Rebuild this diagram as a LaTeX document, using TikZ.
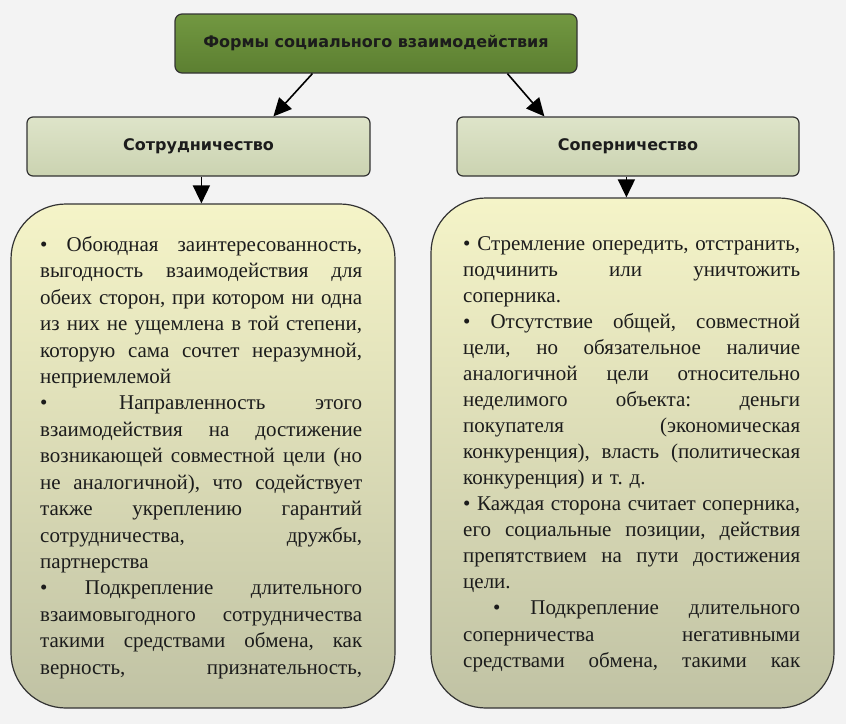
\documentclass[tikz,border=0pt]{standalone}
\usepackage{fontspec}
\setmainfont{Liberation Serif}
\newfontfamily\headfont{DejaVu Sans}
\definecolor{PageGray}{HTML}{F3F3F3}
\definecolor{GreenTop}{HTML}{729841}
\definecolor{GreenMid}{HTML}{8DB25C}
\definecolor{GreenBot}{HTML}{5C7F31}
\definecolor{SageTop}{HTML}{DEE4C9}
\definecolor{SageBot}{HTML}{CBD3B1}
\definecolor{CreamTop}{HTML}{F5F4C8}
\definecolor{OliveBot}{HTML}{C0C2A4}
\definecolor{EdgeGray}{HTML}{333333}
\definecolor{InkBlack}{HTML}{1C1C1C}
\usetikzlibrary{arrows.meta,positioning}
% one justified line of the left / right panel
\newcommand{\jl}[1]{{\spaceskip=0pt\xspaceskip=0pt\makebox[322pt][s]{#1}}}
\newcommand{\jr}[1]{{\spaceskip=0pt\xspaceskip=0pt\makebox[337pt][s]{#1}}}

\begin{document}
\begin{tikzpicture}[x=1pt,y=-1pt,
        head/.style={rounded corners=6pt,draw=EdgeGray,line width=1.2pt,
                     font=\headfont\bfseries\fontsize{16}{18}\selectfont,
                     text=InkBlack,inner sep=0pt,align=center},
        panel/.style={rounded corners=55pt,draw=EdgeGray,line width=1.2pt,
                      top color=CreamTop,bottom color=OliveBot,inner sep=0pt},
        body/.style={anchor=north west,inner sep=0pt,align=left,text=InkBlack},
        link/.style={line width=1.6pt,-{Triangle[length=18pt,width=17pt]}}]

        \fill[PageGray] (0,0) rectangle (846,724);

        \node[head,top color=GreenTop,middle color=GreenMid,bottom color=GreenBot,
              rounded corners=7pt,minimum width=402pt,minimum height=59pt]
              (forms) at (376,43.5) {Формы социального взаимодействия};
        \node[head,top color=SageTop,bottom color=SageBot,
              minimum width=343pt,minimum height=59pt]
              (coop) at (198.5,146.5) {Сотрудничество};
        \node[head,top color=SageTop,bottom color=SageBot,
              minimum width=342pt,minimum height=59pt]
              (riv) at (628,146.5) {Соперничество};

        \node[panel,minimum width=384pt,minimum height=504pt] (lbox) at (203,456) {};
        \node[panel,minimum width=403pt,minimum height=510pt] (rbox) at (632.5,453) {};

        \node[body,text width=322pt,font=\fontsize{21}{26.44}\selectfont\frenchspacing]
              (ltext) at (40,236) {%
          \jl{• Обоюдная заинтересованность,}\\
          \jl{выгодность взаимодействия для}\\
          \jl{обеих сторон, при котором ни одна}\\
          \jl{из них не ущемлена в той степени,}\\
          \jl{которую сама сочтет неразумной,}\\
          неприемлемой\\
          \jl{•\hspace{22pt} Направленность этого}\\
          \jl{взаимодействия на достижение}\\
          \jl{возникающей совместной цели (но}\\
          \jl{не аналогичной), что содействует}\\
          \jl{также укреплению гарантий}\\
          \jl{сотрудничества, дружбы,}\\
          партнерства\\
          \jl{• Подкрепление длительного}\\
          \jl{взаимовыгодного сотрудничества}\\
          \jl{такими средствами обмена, как}\\
          \jl{верность, признательность,}};

        \node[body,text width=337pt,font=\fontsize{21}{26.06}\selectfont\frenchspacing]
              (rtext) at (463,236) {%
          \jr{• Стремление опередить, отстранить,}\\
          \jr{подчинить или уничтожить}\\
          соперника.\\
          \jr{• Отсутствие общей, совместной}\\
          \jr{цели, но обязательное наличие}\\
          \jr{аналогичной цели относительно}\\
          \jr{неделимого объекта: деньги}\\
          \jr{покупателя (экономическая}\\
          \jr{конкуренция), власть (политическая}\\
          конкуренция) и т. д.\\
          \jr{• Каждая сторона считает соперника,}\\
          \jr{его социальные позиции, действия}\\
          \jr{препятствием на пути достижения}\\
          цели.\\
          \jr{\hspace*{30pt}• Подкрепление длительного}\\
          \jr{соперничества негативными}\\
          \jr{средствами обмена, такими как}};

        \draw[link] ([xshift=138pt]forms.south west) -- ([xshift=247pt]coop.north west);
        \draw[link] ([xshift=333pt]forms.south west) -- ([xshift=88pt]riv.north west);
        \foreach \a/\b/\s in {coop/lbox/175pt,riv/rbox/170pt}{
          \draw[link] ([xshift=\s]\a.south west) -- ([xshift=\s]\a.south west |- \b.north);
        }
      \end{tikzpicture}
\end{document}
